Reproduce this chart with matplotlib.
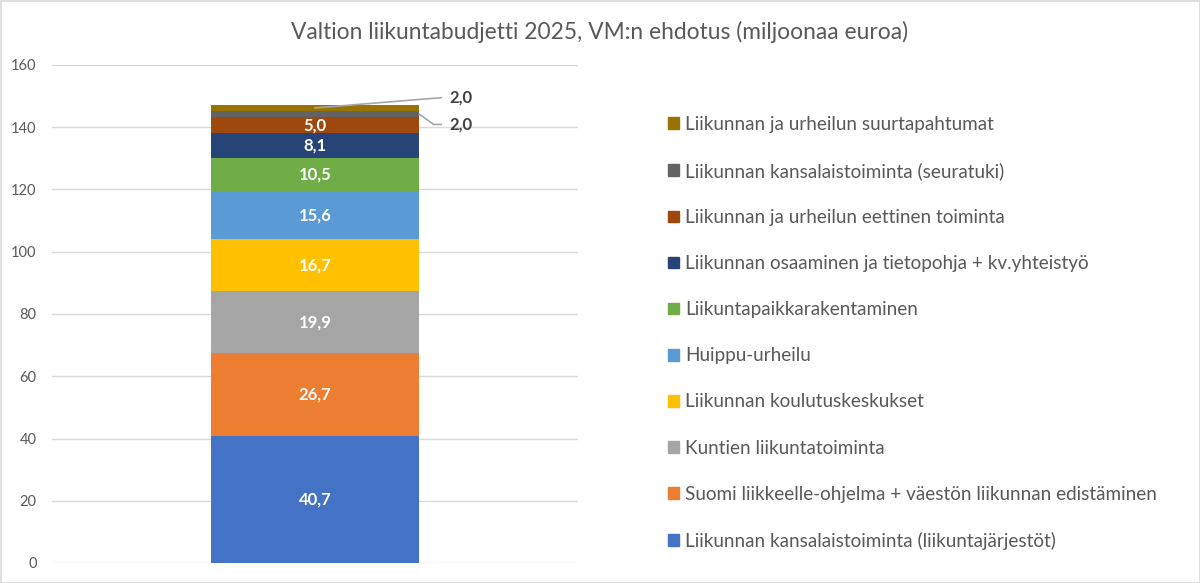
import matplotlib
matplotlib.use("Agg")
import matplotlib.pyplot as plt
from matplotlib.patches import Patch, Rectangle
import numpy as np

plt.rcParams['font.family'] = ['Lato', 'DejaVu Sans']

title = "Valtion liikuntabudjetti 2025, VM:n ehdotus (miljoonaa euroa)"
categories = [
    "Liikunnan kansalaistoiminta (liikuntajärjestöt)",
    "Suomi liikkeelle-ohjelma + väestön liikunnan edistäminen",
    "Kuntien liikuntatoiminta",
    "Liikunnan koulutuskeskukset",
    "Huippu-urheilu",
    "Liikuntapaikkarakentaminen",
    "Liikunnan osaaminen ja tietopohja + kv.yhteistyö",
    "Liikunnan ja urheilun eettinen toiminta",
    "Liikunnan kansalaistoiminta (seuratuki)",
    "Liikunnan ja urheilun suurtapahtumat",
]
values = [40.7, 26.7, 19.9, 16.7, 15.6, 10.5, 8.1, 5.0, 2.0, 2.0]
colors = ["#4472C4", "#ED7D31", "#A5A5A5", "#FFC000", "#5B9BD5",
          "#70AD47", "#264478", "#9E480E", "#636363", "#997300"]
yticks = [0, 20, 40, 60, 80, 100, 120, 140, 160]

W, H = 1200, 583
fig = plt.figure(figsize=(W/100, H/100), dpi=100)
ax = fig.add_axes([52/W, 1-563/H, 526/W, 498/H])

def fmt(v):
    return f"{v:.1f}".replace('.', ',')

bottom = 0.0
bw = 0.397
for v, c in zip(values, colors):
    ax.bar(0, v, bottom=bottom, width=bw, color=c, zorder=3)
    mid = bottom + v/2
    if v >= 4:
        ax.text(0, mid, fmt(v), ha='center', va='center',
                color='white', fontsize=12, fontweight='bold', zorder=4)
    bottom += v

cum = np.cumsum(values)
lab_x = 0.255
# top segment
top_mid = cum[-1] - values[-1]/2
ax.plot([0, 0.24], [top_mid, top_mid + 3.3], color='#A6A6A6', lw=1.2, zorder=5)
ax.text(lab_x, top_mid + 3.3, fmt(values[-1]), ha='left', va='center',
        fontsize=12, fontweight='bold', color='#404040')
# second segment
sec_mid = cum[-2] - values[-2]/2
ax.plot([bw/2, bw/2 + 0.027, 0.24], [sec_mid, sec_mid - 3.3, sec_mid - 3.3],
        color='#A6A6A6', lw=1.2, zorder=5)
ax.text(lab_x, sec_mid - 3.3, fmt(values[-2]), ha='left', va='center',
        fontsize=12, fontweight='bold', color='#404040')

ax.set_xlim(-0.5, 0.5)
ax.set_ylim(0, 160)
ax.set_yticks(yticks)
ax.set_xticks([])
ax.yaxis.grid(True, color='#D9D9D9', lw=1.0, zorder=0)
for s in ax.spines.values():
    s.set_visible(False)
ax.tick_params(axis='y', length=0, pad=11, labelsize=10.5, labelcolor='#595959')
ax.patch.set_alpha(0)

fig.text(600/W, 1-32/H, title, ha='center', va='center', fontsize=16.4, color='#595959')

handles = [Patch(facecolor=c, edgecolor=c) for c in colors][::-1]
labels = categories[::-1]
leg = fig.legend(handles, labels, loc='upper left', bbox_to_anchor=(668/W, 1-116/H),
                 frameon=False, fontsize=13.6, labelcolor='#595959',
                 handlelength=0.58, handleheight=0.58, handletextpad=0.32,
                 labelspacing=1.54, borderpad=0, borderaxespad=0)

fig.patches.append(Rectangle((0.5/W, 0.5/H), 1-1/W, 1-1/H, transform=fig.transFigure,
                             fill=False, edgecolor='#D9D9D9', lw=1.2))

fig.savefig("out.png", dpi=100)
